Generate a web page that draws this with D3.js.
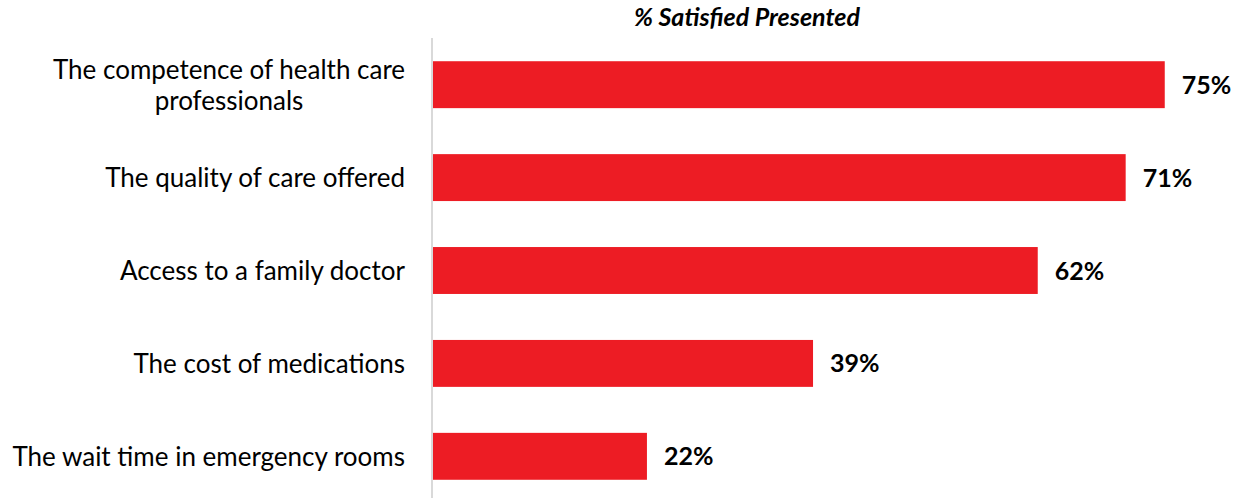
<!DOCTYPE html>
<html>
<head>
  <title>% Satisfied Presented</title>
  <script src="https://d3js.org/d3.v7.min.js"></script>
  <style>
    body, html {
      margin: 0;
      padding: 0;
      overflow: hidden;
      background: #fff;
    }
    text {
      font-family: Lato, "Open Sans", sans-serif;
      fill: #000;
    }
    .cat-label { font-size: 26px; }
    .value-label { font-size: 25px; font-weight: bold; }
    .title { font-size: 25px; font-weight: bold; font-style: italic; }
  </style>
</head>
<body>
  <div id="chart"></div>

  <script>
    // Data
    const categories = [
      "The competence of health care professionals",
      "The quality of care offered",
      "Access to a family doctor",
      "The cost of medications",
      "The wait time in emergency rooms"
    ];
    const satisfied = [75, 71, 62, 39, 22];
    const labelLines = [
      ["The competence of health care", "professionals"],
      ["The quality of care offered"],
      ["Access to a family doctor"],
      ["The cost of medications"],
      ["The wait time in emergency rooms"]
    ];

    const width = 1244;
    const height = 498;
    const margin = { top: 38, left: 432 };

    const svg = d3.select("#chart")
      .append("svg")
      .attr("width", width)
      .attr("height", height);

    const x = d3.scaleLinear()
      .domain([0, 100])
      .range([margin.left, margin.left + 977]);

    const y = d3.scaleBand()
      .domain(categories)
      .range([38, 503])
      .paddingInner(0.495)
      .paddingOuter(0.25);

    // title
    svg.append("text")
      .attr("class", "title")
      .attr("x", 747)
      .attr("y", 26)
      .attr("text-anchor", "middle")
      .text("% Satisfied Presented");

    // axis line
    svg.append("line")
      .attr("x1", margin.left)
      .attr("x2", margin.left)
      .attr("y1", margin.top)
      .attr("y2", height)
      .attr("stroke", "#d9d9d9")
      .attr("stroke-width", 2);

    // bars
    svg.append("g")
      .selectAll("rect")
      .data(categories)
      .join("rect")
      .attr("x", x(0) + 1)
      .attr("y", d => y(d))
      .attr("width", (d, i) => x(satisfied[i]) - x(0) - 1)
      .attr("height", y.bandwidth())
      .attr("fill", "#ED1C24");

    // value labels
    svg.append("g")
      .selectAll("text")
      .data(categories)
      .join("text")
      .attr("class", "value-label")
      .attr("x", (d, i) => x(satisfied[i]) + 17)
      .attr("y", d => y(d) + y.bandwidth() / 2)
      .attr("dy", "0.36em")
      .text((d, i) => satisfied[i] + "%");

    // category labels (two-line label is centred, single lines right aligned)
    const lineH = 31;
    svg.append("g")
      .selectAll("text")
      .data(categories)
      .join("text")
      .attr("class", "cat-label")
      .attr("y", d => y(d) + y.bandwidth() / 2)
      .each(function (d, i) {
        const lines = labelLines[i];
        const t = d3.select(this);
        lines.forEach((ln, j) => {
          t.append("tspan")
            .attr("x", lines.length > 1 ? 229 : 405)
            .attr("text-anchor", lines.length > 1 ? "middle" : "end")
            .attr("dy", j === 0 ? (0.36 * 26 - (lines.length - 1) * lineH / 2) + "px" : lineH + "px")
            .text(ln);
        });
      });
  </script>
</body>
</html>
